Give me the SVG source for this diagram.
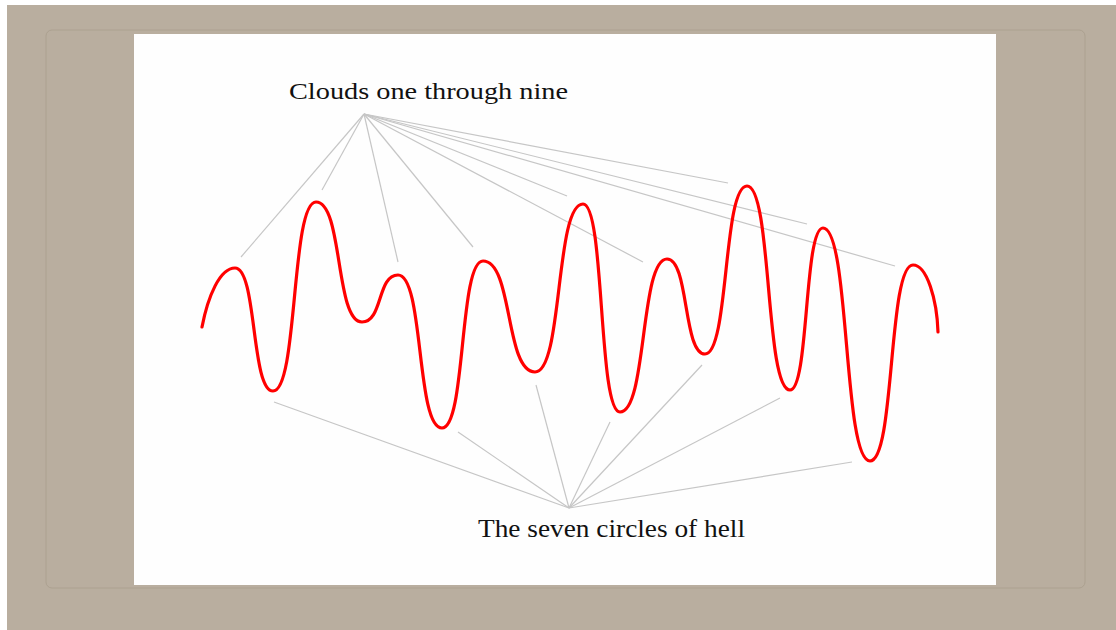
<svg xmlns="http://www.w3.org/2000/svg" width="1116" height="630" viewBox="0 0 1116 630">
<style>
.conn{stroke:#c6c6c6;stroke-width:1.2;fill:none}
.lbl{font-family:"Liberation Serif","DejaVu Serif",serif;fill:#111111}
</style>
<rect x="0" y="0" width="1116" height="630" fill="#ffffff"/>
<rect x="7" y="5" width="1109" height="625" fill="#b9ae9f"/>
<rect x="46" y="30" width="1039" height="558" rx="6" fill="none" stroke="#aca190" stroke-width="1"/>
<rect x="134" y="34" width="862" height="551" fill="#fefefe"/>
<g id="connectors">
<g id="top-fan">
<line class="conn" x1="364" y1="114" x2="241" y2="257"/>
<line class="conn" x1="364" y1="114" x2="322" y2="190"/>
<line class="conn" x1="364" y1="114" x2="398" y2="262"/>
<line class="conn" x1="364" y1="114" x2="473" y2="247"/>
<line class="conn" x1="364" y1="114" x2="567" y2="196"/>
<line class="conn" x1="364" y1="114" x2="643" y2="262"/>
<line class="conn" x1="364" y1="114" x2="728" y2="183"/>
<line class="conn" x1="364" y1="114" x2="807" y2="224"/>
<line class="conn" x1="364" y1="114" x2="895" y2="266"/>
</g>
<g id="bottom-fan">
<line class="conn" x1="569" y1="508" x2="274" y2="402"/>
<line class="conn" x1="569" y1="508" x2="458" y2="432"/>
<line class="conn" x1="569" y1="508" x2="536" y2="385"/>
<line class="conn" x1="569" y1="508" x2="610" y2="422"/>
<line class="conn" x1="569" y1="508" x2="702" y2="365"/>
<line class="conn" x1="569" y1="508" x2="780" y2="398"/>
<line class="conn" x1="569" y1="508" x2="852" y2="462"/>
</g>
</g>
<g id="wave">
<path fill="none" stroke="#ff0000" stroke-width="3.2" stroke-linecap="round" d="M202,327 C208,296 220,268 235,268 C257,268 251,391 273,391 C298,391 291,202 316,202 C343,202 335,322 362,322 C383,322 377,275 398,275 C424,275 416,428 442,428 C466,428 459,261 483,261 C513,261 505,372 535,372 C563,372 555,204 583,204 C605,204 598,412 620,412 C647,412 640,259 667,259 C689,259 683,354 705,354 C729,354 723,186 747,186 C772,186 765,390 790,390 C809,390 804,228 823,228 C850,228 843,461 870,461 C895,461 888,265 913,265 C927,265 937,300 938,332"/>
</g>
<g id="node-clouds">
<text class="lbl" x="289" y="99" font-size="24" textLength="279" lengthAdjust="spacingAndGlyphs">Clouds one through nine</text>
</g>
<g id="node-circles">
<text class="lbl" x="478" y="537" font-size="25" textLength="267" lengthAdjust="spacingAndGlyphs">The seven circles of hell</text>
</g>
</svg>
